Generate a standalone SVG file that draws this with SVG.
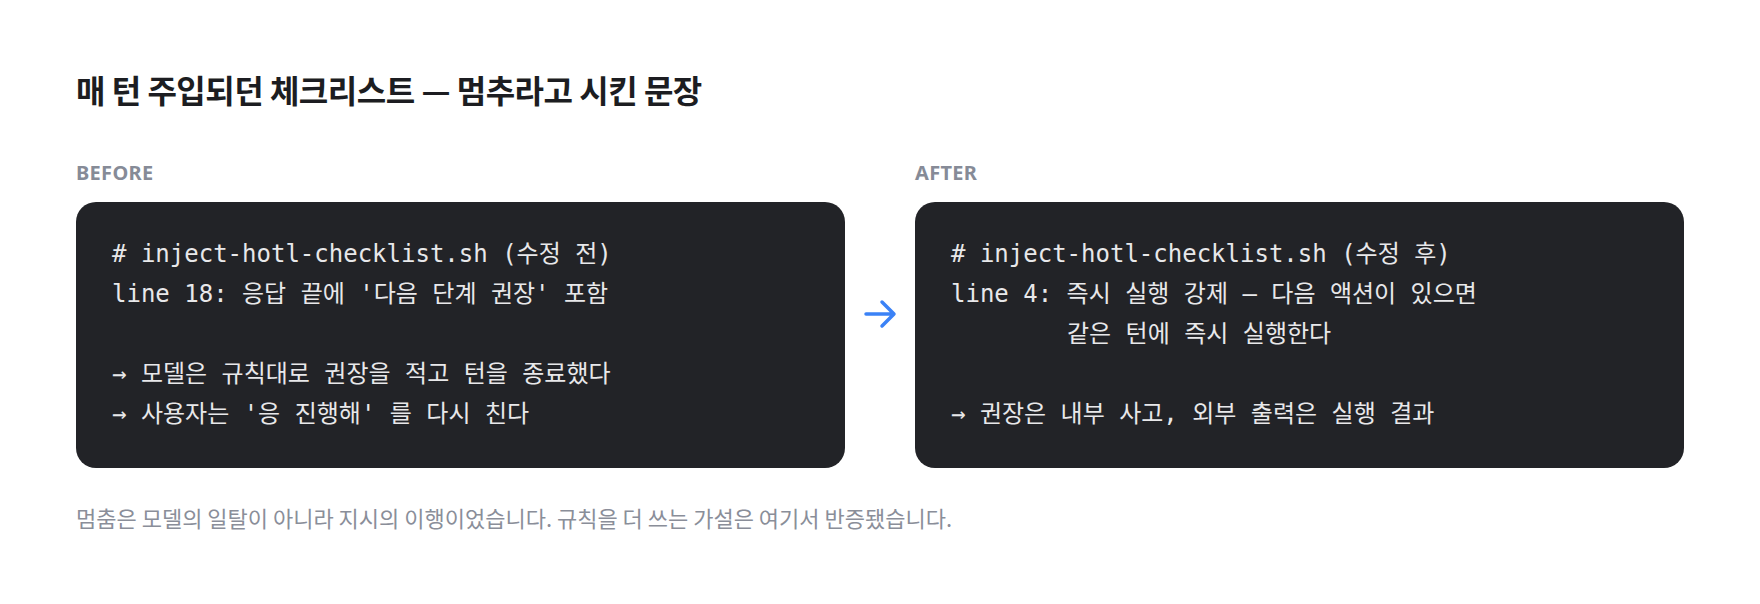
<svg xmlns="http://www.w3.org/2000/svg" width="1760" height="604" viewBox="0 0 1760 604">
<style>
.title{font-family:"Noto Sans CJK KR","Noto Sans",sans-serif;font-weight:700;font-size:32px;fill:#1c1d21;letter-spacing:-0.5px}
.lab{font-family:"Noto Sans","Noto Sans CJK KR",sans-serif;font-weight:700;font-size:20px;fill:#868b97;letter-spacing:0.3px}
.box{fill:#222327}
.code{font-family:"DejaVu Sans Mono","Noto Sans CJK KR",monospace;font-size:24px;fill:#e8e8ea}
.foot{font-family:"Noto Sans CJK KR","Noto Sans",sans-serif;font-size:22px;fill:#8a8e99}
</style>
<rect width="1760" height="604" fill="#ffffff"/>
<text class="title" x="76" y="103">매 턴 주입되던 체크리스트 — 멈추라고 시킨 문장</text>
<g id="before">
<text class="lab" x="76" y="180">BEFORE</text>
<rect class="box" x="76" y="202" width="769" height="266" rx="20"/>
<text class="code" x="112" y="262"># inject-hotl-checklist.sh (수정 전)</text>
<text class="code" x="112" y="302">line 18: 응답 끝에 '다음 단계 권장' 포함</text>
<text class="code" x="112" y="382">→ 모델은 규칙대로 권장을 적고 턴을 종료했다</text>
<text class="code" x="112" y="422">→ 사용자는 '응 진행해' 를 다시 친다</text>
</g>
<g id="connectors">
<path d="M866 314 H893 M882 302 L894 314 L882 326" fill="none" stroke="#3b82f6" stroke-width="3.5" stroke-linecap="round" stroke-linejoin="round"/>
</g>
<g id="after">
<text class="lab" x="915" y="180">AFTER</text>
<rect class="box" x="915" y="202" width="769" height="266" rx="20"/>
<text class="code" x="951" y="262"># inject-hotl-checklist.sh (수정 후)</text>
<text class="code" x="951" y="302">line 4: 즉시 실행 강제 — 다음 액션이 있으면</text>
<text class="code" x="1067" y="342">같은 턴에 즉시 실행한다</text>
<text class="code" x="951" y="422">→ 권장은 내부 사고, 외부 출력은 실행 결과</text>
</g>
<text class="foot" x="76" y="527">멈춤은 모델의 일탈이 아니라 지시의 이행이었습니다. 규칙을 더 쓰는 가설은 여기서 반증됐습니다.</text>
</svg>
